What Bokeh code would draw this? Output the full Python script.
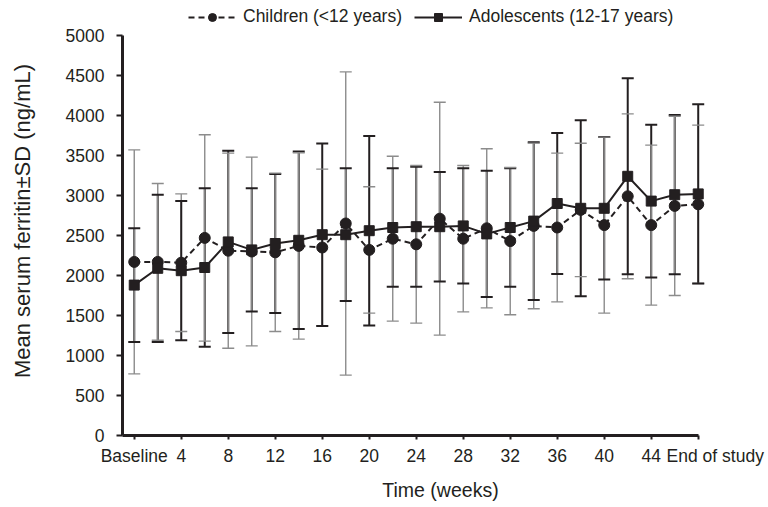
from bokeh.plotting import figure
from bokeh.models import ColumnDataSource, FixedTicker, Legend, LegendItem, Range1d
from bokeh.embed import file_html
from bokeh.resources import INLINE

# ---- data ----
weeks = [0, 2, 4, 6, 8, 10, 12, 14, 16, 18, 20, 22, 24, 26, 28, 30, 32, 34, 36, 38, 40, 42, 44, 46, 48]
tick_weeks = [0, 4, 8, 12, 16, 20, 24, 28, 32, 36, 40, 44, 48]
tick_labels = ["Baseline", "4", "8", "12", "16", "20", "24", "28", "32", "36", "40", "44", "End of study"]
y_ticks = [0, 500, 1000, 1500, 2000, 2500, 3000, 3500, 4000, 4500, 5000]

children_mean = [2170, 2170, 2160, 2470, 2310, 2300, 2290, 2370, 2350, 2650, 2320, 2460, 2390,
                 2710, 2460, 2590, 2430, 2620, 2600, 2820, 2630, 2990, 2630, 2870, 2890]
children_sd = [1400, 980, 860, 1290, 1220, 1180, 990, 1165, 980, 1895, 790, 1030, 985,
               1455, 915, 995, 920, 1035, 930, 834, 1100, 1030, 1000, 1120, 990]
adolescents_mean = [1880, 2090, 2060, 2100, 2420, 2320, 2400, 2440, 2510, 2510, 2560, 2600, 2610,
                    2610, 2620, 2520, 2600, 2680, 2900, 2840, 2840, 3240, 2930, 3010, 3020]
adolescents_sd = [710, 920, 870, 990, 1140, 770, 870, 1110, 1140, 830, 1185, 740, 750,
                  685, 720, 790, 740, 985, 880, 1100, 890, 1225, 955, 995, 1120]

children_label = "Children (<12 years)"
adolescents_label = "Adolescents (12-17 years)"

FONT = "Liberation Sans"
INK = "#231f20"
GRAY = "#8c8c8c"

# the frame reaches above the 5000 line so that the legend can sit inside it
p = figure(width=768, height=507, x_range=Range1d(-1.0, 53.13), y_range=Range1d(0, 5362.5),
           output_backend="svg", toolbar_location=None,
           min_border_left=122, min_border_right=10, min_border_top=6, min_border_bottom=72)
p.outline_line_color = None
p.grid.visible = False
p.background_fill_color = "white"

# ---- SD bars: per week, the wider bar drawn last ----
bars = []
for w, cm, cs, am, asd in zip(weeks, children_mean, children_sd, adolescents_mean, adolescents_sd):
    bars.append((w, 2 * cs, cm - cs, cm + cs, GRAY, 1.4))
    bars.append((w, 2 * asd, am - asd, am + asd, INK, 2.0))
bars.sort(key=lambda b: (b[0], b[1]))
bar_src = ColumnDataSource(dict(
    x=[b[0] for b in bars], lo=[b[2] for b in bars], hi=[b[3] for b in bars],
    color=[b[4] for b in bars], lw=[b[5] for b in bars]))
p.segment(x0="x", y0="lo", x1="x", y1="hi", line_color="color", line_width="lw", source=bar_src)
p.scatter(x="x", y="lo", marker="dash", size=12, line_color="color", line_width="lw", source=bar_src)
p.scatter(x="x", y="hi", marker="dash", size=12, line_color="color", line_width="lw", source=bar_src)

# ---- mean lines ----
c_line = p.line(weeks, children_mean, line_color=INK, line_width=2, line_dash="6 4")
a_line = p.line(weeks, adolescents_mean, line_color=INK, line_width=2)
c_pts = p.scatter(weeks, children_mean, marker="circle", size=11, fill_color=INK, line_color=INK)
a_pts = p.scatter(weeks, adolescents_mean, marker="square", size=10, fill_color=INK, line_color=INK)

legend = Legend(items=[LegendItem(label=children_label, renderers=[c_line, c_pts]),
                       LegendItem(label=adolescents_label, renderers=[a_line, a_pts])],
                orientation="horizontal", location=(66, 408), glyph_width=48, glyph_height=20,
                label_height=20, label_standoff=7, spacing=12, padding=0, margin=0,
                border_line_color=None, background_fill_alpha=0,
                label_text_font=FONT, label_text_font_size="17.5px", label_text_color=INK)
p.add_layout(legend)

# ---- axes ----
xa = p.xaxis[0]
xa.ticker = FixedTicker(ticks=tick_weeks)
# the last label sits a little right of its tick, as in the reference
end_pad = "\u00a0" * 7
xa.major_label_overrides = {w: (end_pad + t if w == tick_weeks[-1] else t)
                            for w, t in zip(tick_weeks, tick_labels)}
xa.bounds = (-1.0, 48.05)
xa.axis_line_width = 3
xa.axis_line_color = INK
xa.major_tick_out = 4
xa.major_tick_in = 0
xa.major_tick_line_width = 2
xa.major_tick_line_color = INK
xa.minor_tick_out = 0
xa.minor_tick_in = 0
xa.major_label_standoff = 6
xa.major_label_text_font = FONT
xa.major_label_text_font_size = "17.5px"
xa.major_label_text_color = INK
xa.axis_label = "Time (weeks)"
xa.axis_label_text_font = FONT
xa.axis_label_text_font_size = "19.5px"
xa.axis_label_text_font_style = "normal"
xa.axis_label_text_color = INK
xa.axis_label_standoff = 10

ya = p.yaxis[0]
ya.ticker = FixedTicker(ticks=y_ticks)
ya.bounds = (0, 5000)
ya.axis_line_width = 3
ya.axis_line_color = INK
ya.major_tick_out = 6
ya.major_tick_in = 0
ya.major_tick_line_width = 2
ya.major_tick_line_color = INK
ya.minor_tick_out = 0
ya.minor_tick_in = 0
ya.major_label_standoff = 12
ya.major_label_text_font = FONT
ya.major_label_text_font_size = "17.5px"
ya.major_label_text_color = INK
ya.axis_label = "Mean serum ferritin±SD (ng/mL)"
ya.axis_label_text_font = FONT
ya.axis_label_text_font_size = "22px"
ya.axis_label_text_font_style = "normal"
ya.axis_label_text_color = INK
ya.axis_label_standoff = 28

open("out.html", "w").write(file_html(p, INLINE))
